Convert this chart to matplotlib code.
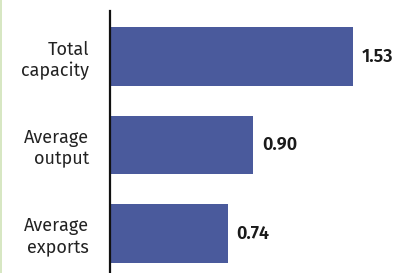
import matplotlib.pyplot as plt
from matplotlib.lines import Line2D

categories = ["Total\ncapacity", "Average\noutput", "Average\nexports"]
values = [1.53, 0.90, 0.74]
value_labels = ["1.53", "0.90", "0.74"]

plt.rcParams['font.family'] = ['Fira Sans', 'Open Sans', 'DejaVu Sans']

fig = plt.figure(figsize=(4.11, 2.73), dpi=100)
ax = fig.add_axes([110 / 411, 0, 301 / 411, 1 - 11 / 273])

pos = range(len(categories))
ax.barh(pos, values, height=0.665, color='#4a5a9c')
ax.set_ylim(2.446, -0.515)
ax.set_xlim(0, 301 / 158.8)

for p, v, lab in zip(pos, values, value_labels):
    ax.annotate(lab, (v, p), xytext=(6.5, 0), textcoords='offset points',
                va='center', ha='left', fontsize=13, fontweight='semibold',
                color='#1a1a1a')

ax.set_yticks(list(pos))
ax.set_yticklabels(categories, fontsize=13, color='#222222', ha='right',
                   linespacing=1.25)
ax.tick_params(axis='y', length=0, pad=15)
ax.set_xticks([])
for s in ['top', 'right', 'bottom']:
    ax.spines[s].set_visible(False)
ax.spines['left'].set_linewidth(1.6)
ax.spines['left'].set_color('#111111')

# thin green border at the left edge
fig.add_artist(Line2D([0.002, 0.002], [0, 1], transform=fig.transFigure,
                      color='#cfe3b8', lw=1.2))

fig.savefig('out.png', dpi=100)
